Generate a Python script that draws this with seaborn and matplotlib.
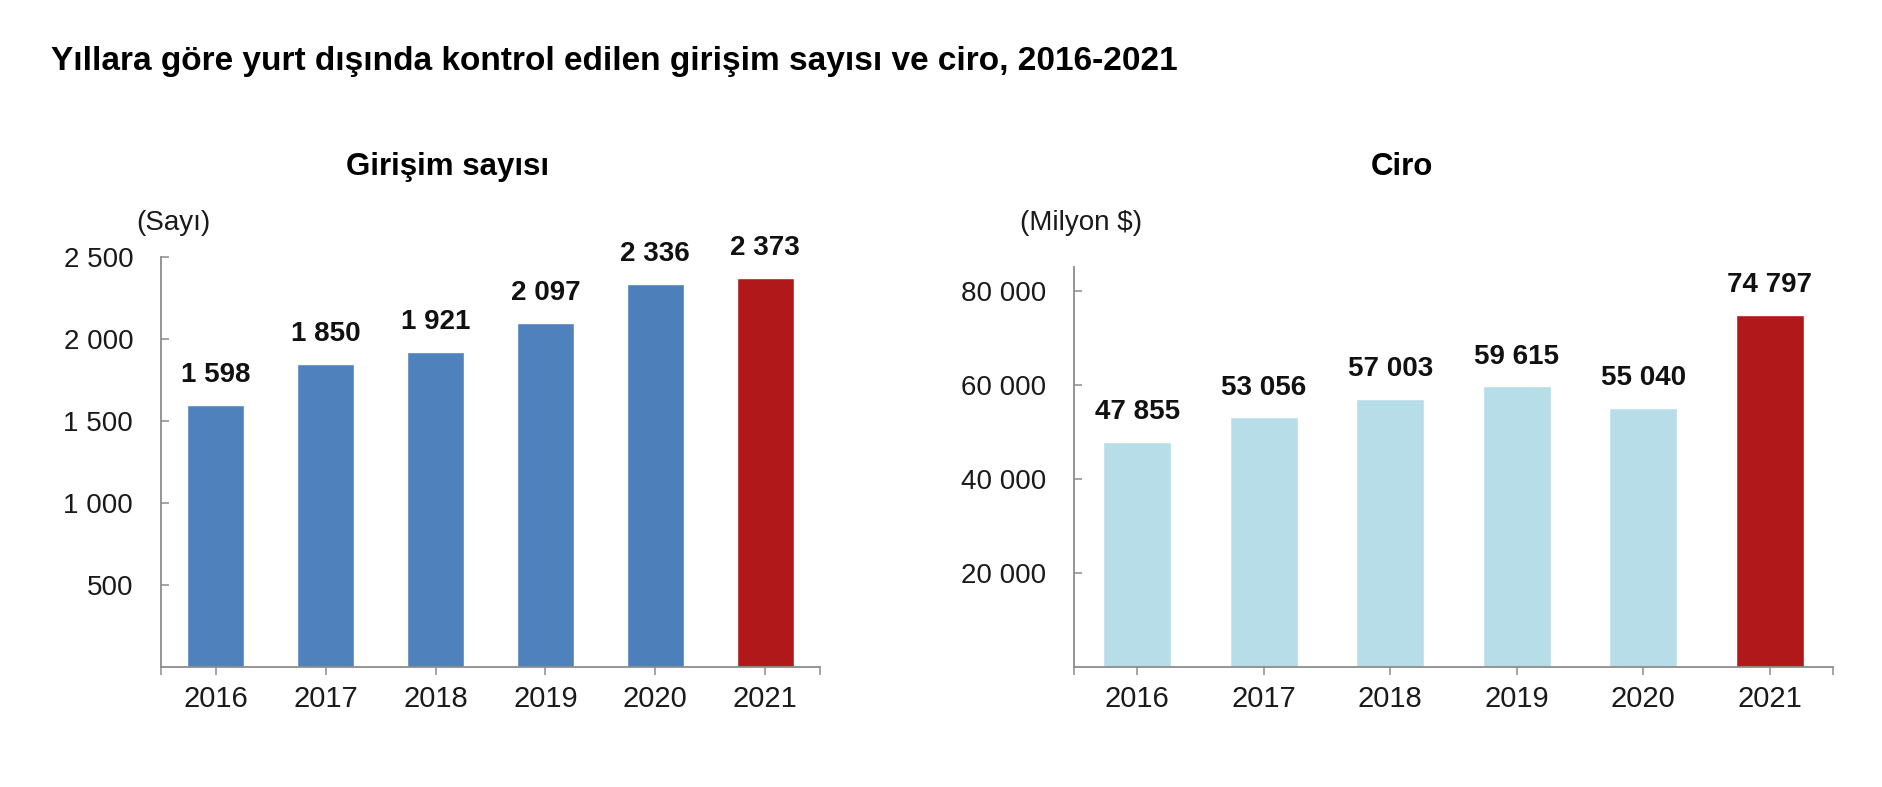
import matplotlib
matplotlib.use("Agg")
import matplotlib.pyplot as plt
import seaborn as sns

years = ["2016", "2017", "2018", "2019", "2020", "2021"]
girisim = [1598, 1850, 1921, 2097, 2336, 2373]
ciro = [47855, 53056, 57003, 59615, 55040, 74797]

girisim_colors = ["#4F81BD", "#4F81BD", "#4F81BD", "#4F81BD", "#4D7FBB", "#B0181A"]
ciro_colors = ["#B7DDE8", "#B7DDE8", "#B7DDE8", "#B7DDE8", "#B7DDE8", "#B0181A"]

sns.set_style("white")
plt.rcParams["font.family"] = ["Liberation Sans", "DejaVu Sans"]

W, H = 1882, 787
fig = plt.figure(figsize=(W / 100, H / 100), dpi=100)


def fmt(v):
    return f"{v:,}".replace(",", " ")


def draw(ax, values, colors, ymax, yticks, width):
    sns.barplot(x=years, y=values, hue=years, palette=colors, legend=False,
                width=width, saturation=1, ax=ax)
    for c, v in zip(ax.containers, values):
        ax.bar_label(c, labels=[fmt(v)], padding=12, fontsize=20,
                     fontweight="bold", color="#111111")
    ax.set_xlim(-0.5, 5.5)
    ax.set_ylim(0, ymax)
    ax.set_yticks(yticks)
    ax.set_yticklabels([fmt(t) for t in yticks])
    ax.set_xticks([-0.5, 5.5], minor=True)
    ax.set_xlabel("")
    ax.set_ylabel("")
    for s in ["top", "right"]:
        ax.spines[s].set_visible(False)
    for s in ["left", "bottom"]:
        ax.spines[s].set_color("#8C8C8C")
        ax.spines[s].set_linewidth(1.3)
    ax.tick_params(axis="y", left=True, direction="in", length=6, width=1.1,
                   color="#8C8C8C", labelsize=20, pad=20, labelcolor="#1A1A1A")
    ax.tick_params(axis="x", which="both", bottom=True, direction="out", length=6,
                   width=1.1, color="#8C8C8C", labelsize=21, pad=7,
                   labelcolor="#1A1A1A")


ax1 = fig.add_axes([161 / W, (H - 667) / H, (820 - 161) / W, (667 - 257) / H])
draw(ax1, girisim, girisim_colors, 2500, [500, 1000, 1500, 2000, 2500], 0.52)

ax2 = fig.add_axes([1074 / W, (H - 667) / H, (1833 - 1074) / W, (667 - 267) / H])
draw(ax2, ciro, ciro_colors, 85000, [20000, 40000, 60000, 80000], 0.54)

fig.text(51 / W, 1 - 70 / H,
         "Yıllara göre yurt dışında kontrol edilen girişim sayısı ve ciro, 2016-2021",
         fontsize=24, fontweight="bold", va="baseline", ha="left", color="black")
fig.text(448 / W, 1 - 175 / H, "Girişim sayısı", fontsize=22.5, fontweight="bold",
         va="baseline", ha="center", color="black")
fig.text(1402 / W, 1 - 175 / H, "Ciro", fontsize=22.5, fontweight="bold",
         va="baseline", ha="center", color="black")
fig.text(136 / W, 1 - 223 / H, "(Sayı)", fontsize=20, va="center", ha="left",
         color="#1A1A1A")
fig.text(1020 / W, 1 - 223 / H, "(Milyon $)", fontsize=20, va="center", ha="left",
         color="#1A1A1A")

fig.savefig("out.png", dpi=100)
